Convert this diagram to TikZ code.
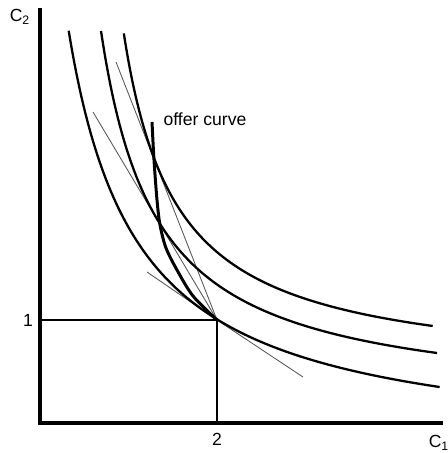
\documentclass[tikz,border=0pt]{standalone}
\usepackage{fontspec}
\setmainfont{Liberation Sans}
\begin{document}
\begin{tikzpicture}[x=0.02cm,y=-0.02cm,
  axis/.style={line width=2pt},
  icurve/.style={line width=1.3pt, samples=90},
  offer/.style={line width=1.7pt},
  budget/.style={line width=0.5pt, black!65},
  guide/.style={line width=0.7pt}]
\useasboundingbox (0,0) rectangle (448,453);

\coordinate (top) at (40,8);
\coordinate (o) at (40,423);
\coordinate (right) at (443,423);
\coordinate (e) at (217,320);
\coordinate (ex) at (217,423);
\coordinate (ey) at (40,320);
\coordinate (b1s) at (147,272);
\coordinate (b1e) at (303,377);
\coordinate (b2s) at (93,112);
\coordinate (b3s) at (116,62);

\node (c2) at (20,17) {C\textsubscript{2}};
\node (c1) at (439,443) {C\textsubscript{1}};
\node (one) at (28,320) {1};
\node (two) at (217,439) {2};
\node (lbl) at (205,119) {offer curve};

\draw[axis] (top) -- (o) -- (right);
\draw[guide] (ey) -- (e) -- (ex);

\draw[budget] (b1s) -- (e) -- (b1e);
\draw[budget] (b2s) -- (e);
\draw[budget] (b3s) -- (e);

\draw[icurve] plot[domain=-0.908:0.949] ({170.3*exp(\x)}, {453-170.3*exp(-\x)});
\draw[icurve] plot[domain=-0.953:0.996] ({45.2+144.78*exp(\x)}, {406.5-144.78*exp(-\x)});
\draw[icurve] plot[domain=-0.935:0.990] ({71+134.5*exp(\x)}, {376-134.5*exp(-\x)});

\draw[offer] plot[smooth] coordinates {(152,122) (154,160) (157,200) (160,225) (166,248) (177,270) (193,296) (217,320)};
\end{tikzpicture}
\end{document}
